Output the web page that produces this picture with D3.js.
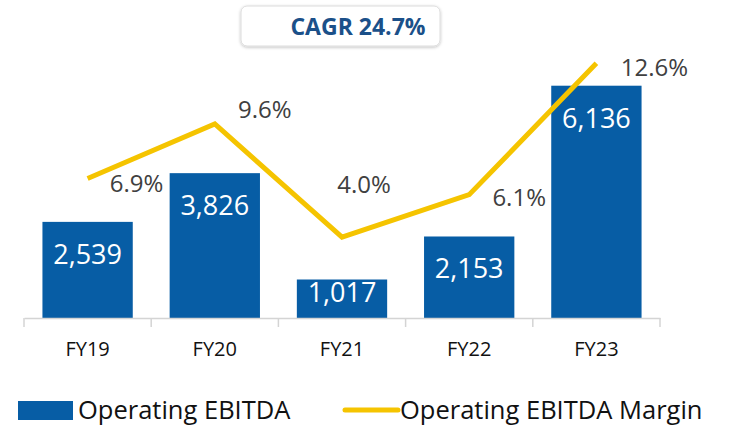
<!DOCTYPE html>
<html>
<head>
<meta charset="utf-8">
<script src="https://cdn.jsdelivr.net/npm/d3@7"></script>
<style>
  body { margin: 0; background: #fff; }
  svg { display: block; }
</style>
</head>
<body>
<div id="container"></div>
<script>
// chart data
const years = ["FY19", "FY20", "FY21", "FY22", "FY23"];
const ebitda = [2539, 3826, 1017, 2153, 6136];
const margin = [6.9, 9.6, 4.0, 6.1, 12.6];
const cagrText = "CAGR 24.7%";

const W = 730, H = 428;
const blue = "#075da5", yellow = "#f5c400";
const font = "'Open Sans', sans-serif";

let svg = d3.select("#container")
  .append("svg")
  .attr("width", W)
  .attr("height", H);

let x = d3.scaleBand()
  .domain(years)
  .range([24, 660])
  .paddingInner(0.29)
  .paddingOuter(0.145);

let y = d3.scaleLinear().domain([0, 7000]).range([318, 53]);
let y2 = d3.scaleLinear().domain([0, 14]).range([318, 35]);

// bars
svg.selectAll("rect.bar").data(ebitda).enter().append("rect")
  .attr("class", "bar")
  .attr("x", (d, i) => x(years[i]))
  .attr("y", d => y(d))
  .attr("width", x.bandwidth())
  .attr("height", d => y(0) - y(d))
  .attr("fill", blue);

// axis
let axis = svg.append("g")
  .attr("transform", "translate(0," + y(0) + ")")
  .call(d3.axisBottom(x).tickSize(0).tickPadding(24));
axis.select(".domain").attr("stroke", "#d4d4d4").attr("stroke-width", 1.5);
axis.selectAll("text")
  .attr("font-family", font)
  .attr("font-size", 20)
  .attr("fill", "#111");

// tick marks at band boundaries
let bounds = years.map(c => x(c) - x.step() * x.paddingInner() / 2);
bounds.push(x.range()[1]);
svg.selectAll("line.tk").data(bounds).enter().append("line")
  .attr("class", "tk")
  .attr("x1", d => d).attr("x2", d => d)
  .attr("y1", y(0)).attr("y2", y(0) + 9)
  .attr("stroke", "#d4d4d4")
  .attr("stroke-width", 1.5);

// bar value labels
svg.selectAll("text.val").data(ebitda).enter().append("text")
  .attr("class", "val")
  .attr("x", (d, i) => x(years[i]) + x.bandwidth() / 2)
  .attr("y", d => Math.min(y(d) + 33, (y(d) + y(0)) / 2 - 6) + 9)
  .attr("text-anchor", "middle")
  .attr("font-family", font)
  .attr("font-size", 27)
  .attr("fill", "#fff")
  .text(d => d3.format(",")(d));

// margin line
let line = d3.line()
  .x((d, i) => x(years[i]) + x.bandwidth() / 2)
  .y(d => y2(d));
svg.append("path")
  .datum(margin)
  .attr("d", line)
  .attr("fill", "none")
  .attr("stroke", yellow)
  .attr("stroke-width", 5);

// margin labels (offsets relative to point)
const lblDx = [49, 50, 22, 50, 58];
const lblDy = [13, -6, -44, 11, 13];
svg.selectAll("text.pct").data(margin).enter().append("text")
  .attr("class", "pct")
  .attr("x", (d, i) => x(years[i]) + x.bandwidth() / 2 + lblDx[i])
  .attr("y", (d, i) => y2(d) + lblDy[i])
  .attr("text-anchor", "middle")
  .attr("font-family", font)
  .attr("font-size", 24)
  .attr("fill", "#404040")
  .text(d => d.toFixed(1) + "%");

// CAGR box
let defs = svg.append("defs");
let f = defs.append("filter").attr("id", "sh").attr("x", "-10%").attr("y", "-20%").attr("width", "120%").attr("height", "150%");
f.append("feDropShadow").attr("dx", 0).attr("dy", 1).attr("stdDeviation", 1.5).attr("flood-color", "#000").attr("flood-opacity", 0.25);
svg.append("rect")
  .attr("x", 241).attr("y", 6)
  .attr("width", 199).attr("height", 40)
  .attr("rx", 6)
  .attr("fill", "#fff")
  .attr("stroke", "#dcdcdc")
  .attr("filter", "url(#sh)");
svg.append("text")
  .attr("x", 358).attr("y", 35)
  .attr("text-anchor", "middle")
  .attr("font-family", font)
  .attr("font-weight", "bold")
  .attr("font-size", 23)
  .attr("fill", "#1b5089")
  .text(cagrText);

// legend
svg.append("rect")
  .attr("x", 18).attr("y", 401)
  .attr("width", 55).attr("height", 19)
  .attr("fill", blue);
svg.append("text")
  .attr("x", 78).attr("y", 419)
  .attr("font-family", font)
  .attr("font-size", 25.5)
  .attr("fill", "#111")
  .text("Operating EBITDA");
svg.append("line")
  .attr("x1", 345).attr("x2", 398)
  .attr("y1", 410).attr("y2", 410)
  .attr("stroke", yellow)
  .attr("stroke-width", 5)
  .attr("stroke-linecap", "round");
svg.append("text")
  .attr("x", 400).attr("y", 419)
  .attr("font-family", font)
  .attr("font-size", 25.5)
  .attr("fill", "#111")
  .text("Operating EBITDA Margin");
</script>
</body>
</html>
